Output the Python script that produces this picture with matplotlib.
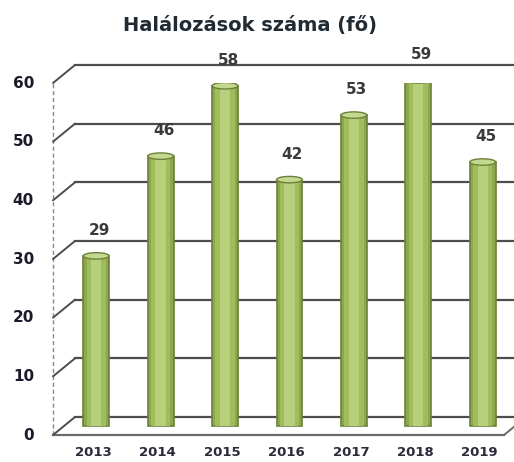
import matplotlib.pyplot as plt
import matplotlib.transforms as mtransforms
from matplotlib.patches import Ellipse

# data
years = ["2013", "2014", "2015", "2016", "2017", "2018", "2019"]
deaths = [29, 46, 58, 42, 53, 59, 45]
y_ticks = [0, 10, 20, 30, 40, 50, 60]
title = "Halálozások száma (fő)"

fig = plt.figure(figsize=(5.14, 4.62), dpi=100)
ax = fig.add_axes([0.1031, 0.0584, 0.8774, 0.7619])
ax.set_xlim(-0.5, len(years) - 0.5)
ax.set_ylim(0, 60)
ax.axis("off")


def shifted(base, dx, dy):
    # offset in pixels, used to fake the 3D depth
    return mtransforms.offset_copy(base, fig=fig, x=dx, y=dy, units="dots")


back = shifted(ax.transData, 22, 18)   # back wall
mid = shifted(ax.transData, 11, 9)     # plane of the bars

grid_col = "#4d4d4d"
x0, x1 = -0.5, len(years) - 0.5

# back wall gridlines + left side wall diagonals
for v in y_ticks:
    ax.plot([x0, x1], [v, v], color=grid_col, lw=1.6, transform=back, clip_on=False)
    ax.annotate("", xy=(x0, v), xycoords=back, xytext=(x0, v), textcoords="data",
                arrowprops=dict(arrowstyle="-", color=grid_col, lw=1.4,
                                shrinkA=0, shrinkB=0))

# floor front edge and right diagonal
ax.plot([x0, x1], [0, 0], color="#6b6b6b", lw=1.6, clip_on=False)
ax.annotate("", xy=(x1, 0), xycoords=back, xytext=(x1, 0), textcoords="data",
            arrowprops=dict(arrowstyle="-", color="#6b6b6b", lw=1.4, shrinkA=0, shrinkB=0))

# front vertical axis
ax.plot([x0, x0], [0, 60], color="#8a8a8a", lw=1.0, ls=(0, (3, 2)), clip_on=False)

# cylinder bars (layered for a rounded look)
x = list(range(len(years)))
layers = [(0.40, "#8ca84c", "#6f7f3a"), (0.30, "#a0bd5e", "none"), (0.16, "#b6d07c", "none")]
for w, fc, ec in layers:
    bars = ax.bar(x, deaths, width=w, color=fc, edgecolor=ec, linewidth=1.2, zorder=3)
    for b in bars:
        b.set_transform(mid)

label_tr = shifted(mid, 3, 18)
for xi, v in zip(x, deaths):
    ax.add_patch(Ellipse((xi, v), 0.40, 1.1, facecolor="#c3d98f", edgecolor="#6f7f3a",
                         lw=1.0, transform=mid, zorder=4))
    ax.text(xi, v, str(v), transform=label_tr, ha="center", va="bottom", fontsize=11,
            fontweight="bold", color="#3a3a3a")

# y tick labels
ytr = shifted(ax.transData, -19, 0)
for v in y_ticks:
    ax.text(x0, v, str(v), ha="right", va="center", fontsize=11, fontweight="bold",
            color="#1a1a2a", transform=ytr)

# year labels
xtr = shifted(ax.transData, 8, -11)
for xi, yr in zip(x, years):
    ax.text(xi, 0, yr, ha="center", va="top", fontsize=9.5, fontweight="bold",
            color="#2a2a3a", transform=xtr)

fig.text(0.487, 0.945, title, ha="center", va="center", fontsize=14,
         fontweight="bold", color="#1f2a33")

fig.savefig("out.png", dpi=100)
